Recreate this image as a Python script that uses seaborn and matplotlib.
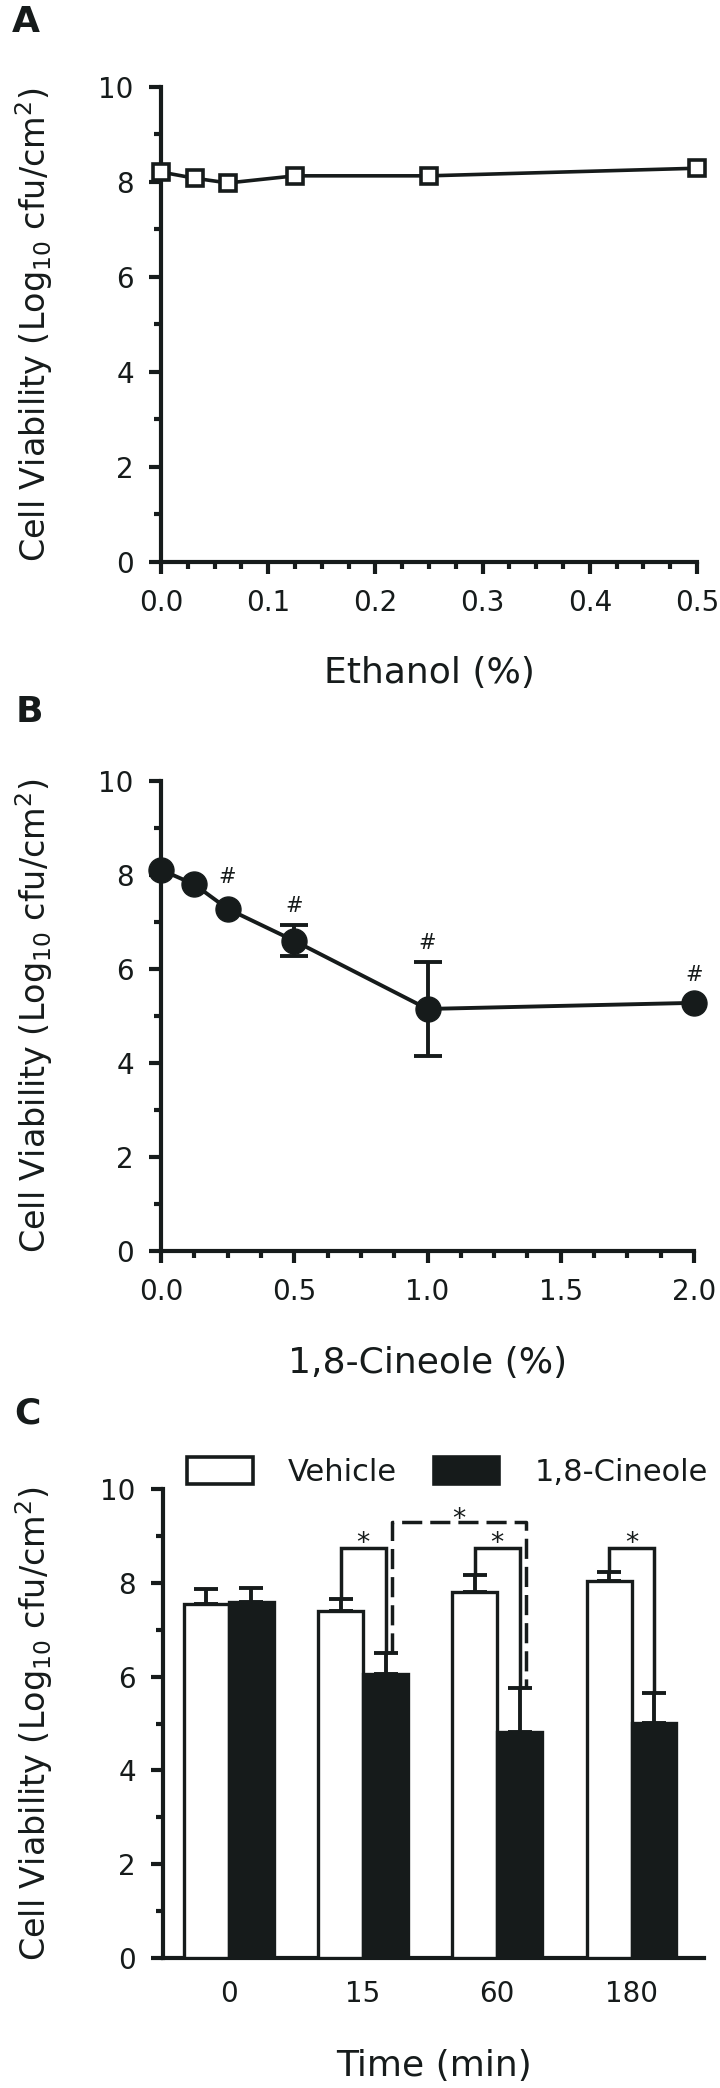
import numpy as np
import pandas as pd
import matplotlib
matplotlib.use("Agg")
import matplotlib.pyplot as plt
import seaborn as sns
from matplotlib.ticker import MultipleLocator, FormatStrFormatter

# ---------------- data ----------------
# Panel A
ethanol_pct = [0.0, 0.03125, 0.0625, 0.125, 0.25, 0.5]
ethanol_viab = [8.21, 8.08, 7.98, 8.13, 8.13, 8.29]

# Panel B
cineole_pct = [0.0, 0.125, 0.25, 0.5, 1.0, 2.0]
cineole_viab = [8.11, 7.80, 7.28, 6.60, 5.15, 5.28]
cineole_sd = [0.0, 0.0, 0.0, 0.33, 1.0, 0.0]
hash_x = [0.25, 0.5, 1.0, 2.0]
hash_y = [7.95, 7.33, 6.55, 5.88]

# Panel C
times = ["0", "15", "60", "180"]
groups = ["Vehicle", "1,8-Cineole"]
vehicle_mean = [7.55, 7.40, 7.80, 8.04]
vehicle_err = [0.32, 0.26, 0.36, 0.19]
cineole_mean = [7.58, 6.05, 4.82, 5.01]
cineole_err = [0.30, 0.46, 0.94, 0.64]
sig_groups = [1, 2, 3]          # vehicle vs cineole brackets
bracket_y = 8.74
star_base = 8.68
dash_pair = (1, 2)              # cineole 15 vs cineole 60
dash_y = 9.29
dash_star_base = 9.20

ylabel_text = "Cell Viability (Log$_\\mathregular{10}$ cfu/cm$^\\mathregular{2}$)"

# ---------------- style ----------------
ink = "#161b1b"
sns.set_theme(style="ticks")
plt.rcParams["font.family"] = ["DejaVu Sans"]
plt.rcParams["mathtext.fontset"] = "dejavusans"
plt.rcParams["text.color"] = ink

W, H = 720, 2088
fig = plt.figure(figsize=(W / 100, H / 100), dpi=100)
fig.patch.set_facecolor("white")

TICK_FS = 20
XLABEL_FS = 26
YLABEL_FS = 24
LETTER_FS = 26
LW_AX = 3.0


def px_axes(left, right, top, bottom):
    return fig.add_axes([left / W, 1 - bottom / H, (right - left) / W, (bottom - top) / H])


def style(ax):
    sns.despine(ax=ax)
    for s in ["left", "bottom"]:
        ax.spines[s].set_linewidth(LW_AX)
        ax.spines[s].set_color(ink)
    ax.tick_params(which="major", length=8.6, width=LW_AX, color=ink,
                   labelsize=TICK_FS, pad=11, labelcolor=ink)
    ax.tick_params(which="minor", length=5.0, width=LW_AX, color=ink)
    ax.set_ylim(0, 10)
    ax.yaxis.set_major_locator(MultipleLocator(2))
    ax.yaxis.set_minor_locator(MultipleLocator(1))
    ax.set_facecolor("white")
    ax.set_xlabel("")
    ax.set_ylabel("")


def labels(ax_left_px, ax_right_px, ax_top_px, ax_bot_px, xlabel, xbase_px, letter, letter_x, letter_base):
    cx = (ax_left_px + ax_right_px) / 2
    fig.text(cx / W, 1 - xbase_px / H, xlabel, ha="center", va="baseline",
             fontsize=XLABEL_FS, color=ink)
    cy = (ax_top_px + ax_bot_px) / 2
    fig.text(46 / W, 1 - cy / H, ylabel_text, rotation=90, rotation_mode="anchor",
             ha="center", va="baseline", fontsize=YLABEL_FS, color=ink)
    fig.text(letter_x / W, 1 - letter_base / H, letter, ha="left", va="baseline",
             fontsize=LETTER_FS, fontweight="bold", color=ink)


# ---------------- Panel A ----------------
axA = px_axes(161, 697, 87, 562)
dfA = pd.DataFrame({"pct": ethanol_pct, "viab": ethanol_viab})
sns.lineplot(data=dfA, x="pct", y="viab", ax=axA, color=ink, linewidth=2.6,
             marker="s", markersize=12, markerfacecolor="white",
             markeredgecolor=ink, markeredgewidth=2.6, clip_on=False,
             legend=False, zorder=5)
style(axA)
axA.set_xlim(0, 0.5)
axA.xaxis.set_major_locator(MultipleLocator(0.1))
axA.xaxis.set_minor_locator(MultipleLocator(0.025))
axA.xaxis.set_major_formatter(FormatStrFormatter("%.1f"))
labels(161, 697, 87, 562, "Ethanol (%)", 683, "A", 12, 32)

# ---------------- Panel B ----------------
axB = px_axes(161, 694, 781, 1251)
dfB = pd.DataFrame({"pct": cineole_pct, "viab": cineole_viab, "sd": cineole_sd})
sns.lineplot(data=dfB, x="pct", y="viab", ax=axB, color=ink, linewidth=2.8,
             marker="o", markersize=18, markerfacecolor=ink,
             markeredgecolor=ink, markeredgewidth=1, clip_on=False,
             legend=False, zorder=5)
errB = dfB[dfB["sd"] > 0]
axB.errorbar(errB["pct"], errB["viab"], yerr=errB["sd"], fmt="none",
             ecolor=ink, elinewidth=2.8, capsize=10, capthick=2.8, zorder=4)
for hx, hy in zip(hash_x, hash_y):
    axB.text(hx, hy, "#", ha="center", va="center", fontsize=15, color=ink)
style(axB)
axB.set_xlim(0, 2.0)
axB.xaxis.set_major_locator(MultipleLocator(0.5))
axB.xaxis.set_minor_locator(MultipleLocator(0.125))
axB.xaxis.set_major_formatter(FormatStrFormatter("%.1f"))
labels(161, 694, 781, 1251, "1,8-Cineole (%)", 1373, "B", 16, 722)

# ---------------- Panel C ----------------
axC = px_axes(163, 704, 1489, 1958)
dfC = pd.DataFrame({
    "time": times * 2,
    "group": [groups[0]] * 4 + [groups[1]] * 4,
    "viab": vehicle_mean + cineole_mean,
})
sns.barplot(data=dfC, x="time", y="viab", hue="group", order=times, hue_order=groups,
            palette={groups[0]: "white", groups[1]: ink}, saturation=1,
            edgecolor=ink, linewidth=2.4, width=0.67, errorbar=None, ax=axC, zorder=3)

veh_c = [p.get_x() + p.get_width() / 2 for p in axC.containers[0]]
cin_c = [p.get_x() + p.get_width() / 2 for p in axC.containers[1]]
zeros = [0] * len(times)
axC.errorbar(veh_c, vehicle_mean, yerr=[zeros, vehicle_err], fmt="none", ecolor=ink,
             elinewidth=2.8, capsize=8.5, capthick=2.8, zorder=2)
axC.errorbar(cin_c, cineole_mean, yerr=[zeros, cineole_err], fmt="none", ecolor=ink,
             elinewidth=2.8, capsize=8.5, capthick=2.8, zorder=2)

veh_top = [m + e for m, e in zip(vehicle_mean, vehicle_err)]
cin_top = [m + e for m, e in zip(cineole_mean, cineole_err)]
for i in sig_groups:
    xl, xr = veh_c[i], cin_c[i]
    axC.plot([xl, xl, xr, xr], [veh_top[i], bracket_y, bracket_y, cin_top[i]],
             color=ink, linewidth=2.5, solid_joinstyle="miter", zorder=4)
    axC.text((xl + xr) / 2, star_base, "*", ha="center", va="baseline",
             fontsize=19, color=ink)

i, j = dash_pair
shift = 0.045
xl, xr = cin_c[i] + shift, cin_c[j] + shift
axC.plot([xl, xl, xr, xr], [cin_top[i], dash_y, dash_y, cin_top[j]],
         color=ink, linewidth=2.5, linestyle=(0, (5.8, 2.3)), zorder=4)
axC.text((xl + xr) / 2, dash_star_base, "*", ha="center", va="baseline",
         fontsize=19, color=ink)

handles, leg_labels = axC.get_legend_handles_labels()
if axC.get_legend() is not None:
    axC.get_legend().remove()
for h in handles:
    h.set_edgecolor(ink)
    h.set_linewidth(2.6)
fig.legend(handles, leg_labels, loc="center left", bbox_to_anchor=(187 / W, 1 - 1472 / H),
           ncol=2, frameon=False, fontsize=22, handlelength=2.15, handleheight=0.95,
           handletextpad=1.15, columnspacing=1.2, borderpad=0, borderaxespad=0,
           labelcolor=ink)

style(axC)
axC.set_xlim(-0.49, 3.54)
axC.tick_params(axis="x", which="both", length=0, pad=16)
labels(163, 704, 1489, 1958, "Time (min)", 2076, "C", 14, 1423)

fig.savefig("out.png", dpi=100, facecolor="white")
